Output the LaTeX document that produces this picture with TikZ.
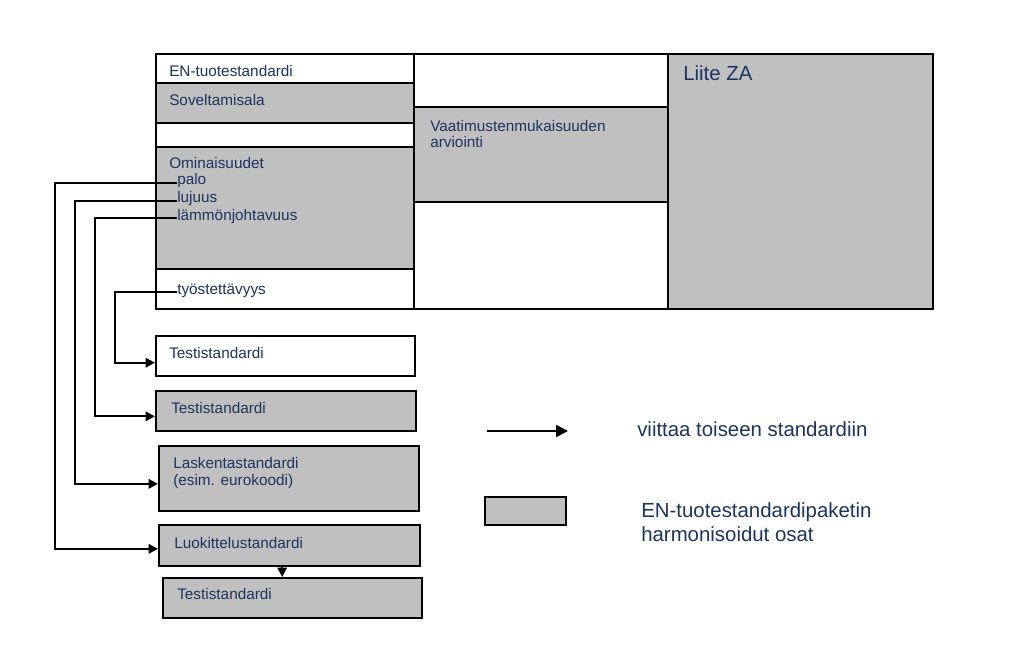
\documentclass[tikz,border=0pt]{standalone}
\usepackage{fontspec}
\setmainfont{Liberation Sans}
\usetikzlibrary{arrows.meta, fit}

\definecolor{harmaa}{RGB}{192,192,192}
\definecolor{tekstisini}{RGB}{28,52,96}

\begin{document}
\begin{tikzpicture}[x=0.75pt, y=-0.75pt,
    laatikko/.style={draw, line width=1.5pt, inner sep=0pt},
    valkoinen/.style={laatikko, fill=white},
    harmaalaatikko/.style={laatikko, fill=harmaa},
    teksti/.style={anchor=base west, inner sep=0pt, text=tekstisini, font=\fontsize{11.5}{12.75}\selectfont},
    isoteksti/.style={teksti, font=\fontsize{15.3}{18.8}\selectfont},
    viite/.style={line width=1.5pt, -{Triangle[length=7pt, width=7pt]}}]
        \useasboundingbox (0,0) rectangle (1024,664);
        \fill[white] (0,0) rectangle (1024,664);

        % EN-tuotestandardi
        \node[valkoinen, fit={(156,54) (414,83)}] (entuote) {};
        \node[harmaalaatikko, fit={(156,83) (414,123)}] (sovelt) {};
        \node[valkoinen, fit={(156,123) (414,147)}] (tyhja) {};
        \node[harmaalaatikko, fit={(156,147) (414,269)}] (omin) {};
        \node[valkoinen, fit={(156,269) (414,309)}] (tyost) {};

        % Vaatimustenmukaisuus ja liite
        \node[valkoinen, fit={(414,54) (668,107)}] (ylatyhja) {};
        \node[harmaalaatikko, fit={(414,107) (668,202)}] (vaat) {};
        \node[valkoinen, fit={(414,202) (668,309)}] (alatyhja) {};
        \node[harmaalaatikko, fit={(668,54) (933,309)}] (liite) {};

        % Muut standardit
        \node[valkoinen, fit={(156,336) (415,376)}] (testi1) {};
        \node[harmaalaatikko, fit={(156,391) (416,431)}] (testi2) {};
        \node[harmaalaatikko, fit={(159,446) (419,511)}] (lask) {};
        \node[harmaalaatikko, fit={(159,525) (420,566)}] (luok) {};
        \node[harmaalaatikko, fit={(163,578) (422,618)}] (testi3) {};

        % Tekstit
        \node[teksti] (t-entuote) at (169,76) {EN-tuotestandardi};
        \node[teksti] (t-sovelt) at (169,105) {Soveltamisala};
        \node[teksti] (t-omin) at (169,168) {Ominaisuudet};
        \node[teksti] (palo) at (177,184) {palo};
        \node[teksti] (lujuus) at (177,202) {lujuus};
        \node[teksti] (lammon) at (177,220) {lämmönjohtavuus};
        \node[teksti] (tyostett) at (177,294) {työstettävyys};
        \node[teksti] (t-vaat1) at (430,131) {Vaatimustenmukaisuuden};
        \node[teksti] (t-vaat2) at (430,147) {arviointi};
        \node[isoteksti] (t-liite) at (683,80) {Liite ZA};
        \node[teksti] (t-testi1) at (169,358) {Testistandardi};
        \node[teksti] (t-testi2) at (171,413) {Testistandardi};
        \node[teksti] (t-lask1) at (173,468) {Laskentastandardi};
        \node[teksti] (t-lask2) at (173,485) {(esim. eurokoodi)};
        \node[teksti] (t-luok) at (174,548) {Luokittelustandardi};
        \node[teksti] (t-testi3) at (177,599) {Testistandardi};

        % Viittaukset
        \draw[viite] ([yshift=0.8pt]palo.base west) -- ++(-122,0) |- ([yshift=-2.5pt]luok.west);
        \draw[viite] ([yshift=0.5pt]lujuus.base west) -- ++(-102,0) |- ([yshift=-4pt]lask.west);
        \draw[viite] ([yshift=1.5pt]lammon.base west) -- ++(-82,0) |- ([yshift=-4pt]testi2.west);
        \draw[viite] ([yshift=1.2pt]tyostett.base west) -- ++(-62,0) |- ([yshift=-5pt]testi1.west);
        \draw[viite] ([xshift=-5.5pt]luok.south) -- ([xshift=-5.5pt]luok.south |- testi3.north);

        % Selite
        \coordinate (selite-a) at (487,431);
        \coordinate (selite-b) at (568,431);
        \draw[viite, line width=1.8pt, -{Triangle[length=9pt, width=9pt]}] (selite-a) -- (selite-b);
        \node[isoteksti] (t-viite) at (637,436) {viittaa toiseen standardiin};
        \node[harmaalaatikko, fit={(485,497) (566,525)}] (selite-laatikko) {};
        \node[isoteksti] (t-harm1) at (641,517) {EN-tuotestandardipaketin};
        \node[isoteksti] (t-harm2) at (641,541) {harmonisoidut osat};
    \end{tikzpicture}
\end{document}
